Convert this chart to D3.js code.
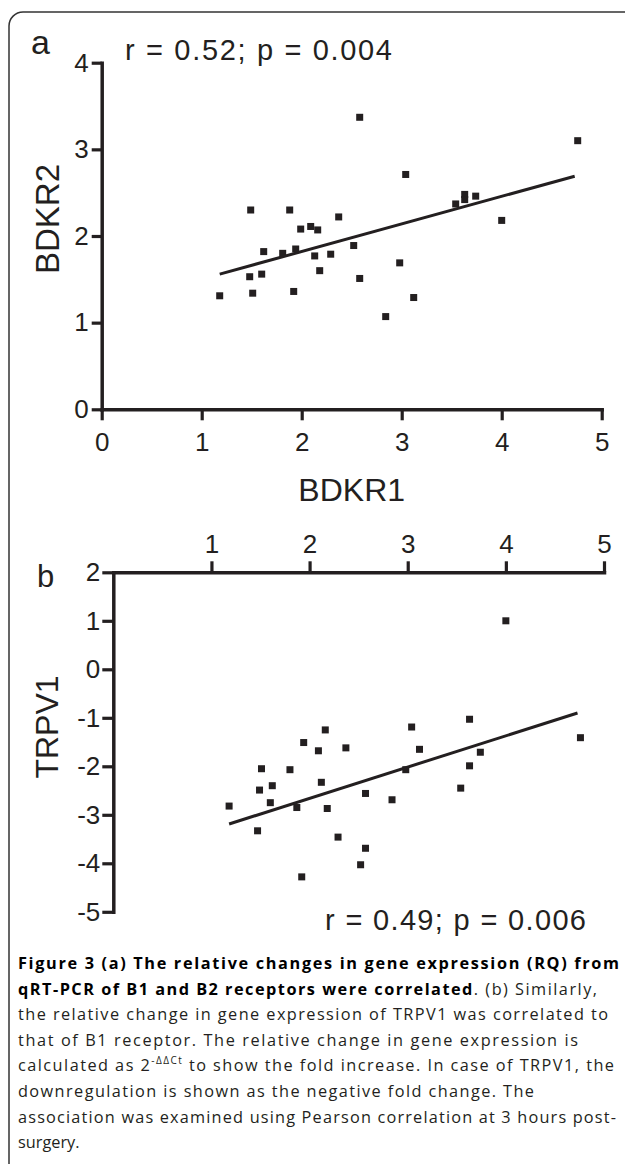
<!DOCTYPE html>
<html>
<head>
<meta charset="utf-8">
<script src="https://cdn.jsdelivr.net/npm/d3@7"></script>
<style>
html,body{margin:0;padding:0;background:#fff;}
svg{display:block;}
</style>
</head>
<body>
<svg id="fig" width="625" height="1164"></svg>
<script>
// ---- data ----
const xTicks = [0, 1, 2, 3, 4, 5];
const yTicksA = [0, 1, 2, 3, 4];
const yTicksB = [2, 1, 0, -1, -2, -3, -4, -5];
const topTicksB = [1, 2, 3, 4, 5];

const bdkr1A = [1.18,1.48,1.49,1.51,1.60,1.62,1.81,1.88,1.92,1.94,1.99,2.09,2.13,2.16,2.18,2.29,2.37,2.52,2.58,2.58,2.84,2.98,3.04,3.12,3.54,3.63,3.63,3.74,4.00,4.76];
const bdkr2A = [1.31,1.53,2.30,1.34,1.56,1.82,1.80,2.30,1.36,1.85,2.08,2.11,1.77,2.07,1.60,1.79,2.22,1.89,3.37,1.51,1.07,1.69,2.71,1.29,2.37,2.48,2.42,2.46,2.18,3.10];

const bdkr1B = [1.18,1.47,1.49,1.51,1.60,1.62,1.80,1.87,1.92,1.94,2.09,2.12,2.16,2.18,2.29,2.37,2.52,2.57,2.57,2.84,2.98,3.04,3.12,3.54,3.63,3.63,3.74,4.00,4.76];
const trpv1B = [-2.82,-3.33,-2.49,-2.05,-2.75,-2.40,-2.07,-2.85,-4.28,-1.51,-1.68,-2.33,-1.25,-2.87,-3.46,-1.62,-4.03,-2.56,-3.69,-2.69,-2.07,-1.19,-1.65,-2.45,-1.03,-1.99,-1.71,1.00,-1.41];

const fitXA = [1.18, 4.73], fitYA = [1.56, 2.69];
const fitXB = [1.18, 4.73], fitYB = [-3.19, -0.90];

const statA = "r = 0.52; p = 0.004";
const statB = "r = 0.49; p = 0.006";

const ink = "#231f20";
const svg = d3.select("#fig");
const plotFont = "'Liberation Sans', Arial, Helvetica, sans-serif";
const fmt = d => String(d); // plain hyphen-minus like the reference

// border
svg.append("rect").attr("x", 9).attr("y", 12).attr("width", 640).attr("height", 1180)
  .attr("rx", 14).attr("ry", 14).attr("fill", "none").attr("stroke", "#333").attr("stroke-width", 1.5);

function styleAxis(g) {
  g.selectAll(".domain").attr("stroke", ink).attr("stroke-width", 3.5).attr("stroke-linecap", "square");
  g.selectAll(".tick line").attr("stroke", ink).attr("stroke-width", 3.2);
  g.selectAll(".tick text").attr("fill", ink).attr("font-family", plotFont).attr("font-size", 26);
}

// ---------- Panel a ----------
const xA = d3.scaleLinear().domain([0, 5]).range([101.7, 601.7]);
const yA = d3.scaleLinear().domain([0, 4]).range([409.3, 62.7]);

const gA = svg.append("g");
gA.append("g").attr("transform", `translate(0,${yA(0)})`)
  .call(d3.axisBottom(xA).tickValues(xTicks).tickFormat(fmt).tickSize(11).tickSizeOuter(0).tickPadding(12))
  .call(styleAxis);
gA.append("g").attr("transform", `translate(${xA(0)},0)`)
  .call(d3.axisLeft(yA).tickValues(yTicksA).tickFormat(fmt).tickSize(10).tickSizeOuter(0).tickPadding(3))
  .call(styleAxis);

gA.append("line")
  .attr("x1", xA(fitXA[0])).attr("y1", yA(fitYA[0]))
  .attr("x2", xA(fitXA[1])).attr("y2", yA(fitYA[1]))
  .attr("stroke", ink).attr("stroke-width", 3);

const sq = 7;
gA.selectAll("rect.pt").data(d3.range(bdkr1A.length)).join("rect")
  .attr("class", "pt")
  .attr("x", i => xA(bdkr1A[i]) - sq / 2).attr("y", i => yA(bdkr2A[i]) - sq / 2)
  .attr("width", sq).attr("height", sq).attr("fill", ink);

gA.append("text").attr("x", 31).attr("y", 54).text("a")
  .attr("font-family", plotFont).attr("font-size", 34).attr("fill", ink);
gA.append("text").attr("x", 125).attr("y", 60).text(statA)
  .attr("font-family", plotFont).attr("font-size", 29).attr("fill", ink)
  .attr("textLength", 267).attr("lengthAdjust", "spacing");
gA.append("text").attr("x", 351.7).attr("y", 501).attr("text-anchor", "middle").text("BDKR1")
  .attr("font-family", plotFont).attr("font-size", 32).attr("fill", ink);
gA.append("text").attr("transform", "translate(59,219) rotate(-90)").attr("text-anchor", "middle").text("BDKR2")
  .attr("font-family", plotFont).attr("font-size", 33).attr("fill", ink);

// ---------- Panel b ----------
const xB = d3.scaleLinear().domain([0, 5]).range([113.3, 604]);
const yB = d3.scaleLinear().domain([-5, 2]).range([911.8, 572.3]);

const gB = svg.append("g");
gB.append("g").attr("transform", `translate(0,${yB(2)})`)
  .call(d3.axisTop(xB).tickValues(topTicksB).tickFormat(fmt).tickSize(11).tickSizeOuter(0).tickPadding(8))
  .call(styleAxis);
gB.append("g").attr("transform", `translate(${xB(0)},0)`)
  .call(d3.axisLeft(yB).tickValues(yTicksB).tickFormat(fmt).tickSize(11).tickSizeOuter(0).tickPadding(2))
  .call(styleAxis);

gB.append("line")
  .attr("x1", xB(fitXB[0])).attr("y1", yB(fitYB[0]))
  .attr("x2", xB(fitXB[1])).attr("y2", yB(fitYB[1]))
  .attr("stroke", ink).attr("stroke-width", 3);

gB.selectAll("rect.pt").data(d3.range(bdkr1B.length)).join("rect")
  .attr("class", "pt")
  .attr("x", i => xB(bdkr1B[i]) - sq / 2).attr("y", i => yB(trpv1B[i]) - sq / 2)
  .attr("width", sq).attr("height", sq).attr("fill", ink);

gB.append("text").attr("x", 37).attr("y", 587).text("b")
  .attr("font-family", plotFont).attr("font-size", 31).attr("fill", ink);
gB.append("text").attr("x", 325).attr("y", 930).text(statB)
  .attr("font-family", plotFont).attr("font-size", 29).attr("fill", ink)
  .attr("textLength", 261).attr("lengthAdjust", "spacing");
gB.append("text").attr("transform", "translate(58,727) rotate(-90)").attr("text-anchor", "middle").text("TRPV1")
  .attr("font-family", plotFont).attr("font-size", 32).attr("fill", ink);

// ---------- Caption ----------
const capFont = "'Open Sans', 'Noto Sans', sans-serif";
const capLines = [
  [{t: "Figure 3 (a) The relative changes in gene expression (RQ) from", b: true}],
  [{t: "qRT-PCR of B1 and B2 receptors were correlated", b: true}, {t: ". (b) Similarly,"}],
  [{t: "the relative change in gene expression of TRPV1 was correlated to"}],
  [{t: "that of B1 receptor. The relative change in gene expression is"}],
  [{t: "calculated as 2"}, {t: "-ΔΔCt", sup: true}, {t: " to show the fold increase. In case of TRPV1, the"}],
  [{t: "downregulation is shown as the negative fold change. The"}],
  [{t: "association was examined using Pearson correlation at 3 hours post-"}],
  [{t: "surgery."}]
];
const capWidths = [601, 579, 590, 560, 596, 516, 598, null];
const cap = svg.append("g");
capLines.forEach((segs, i) => {
  const t = cap.append("text").attr("x", 18).attr("y", 969 + i * 25.6)
    .attr("font-family", capFont).attr("font-size", 16.3).attr("fill", "#231f20");
  segs.forEach((s, j) => {
    const ts = t.append("tspan").text(s.t);
    if (s.b) ts.attr("font-weight", "bold").attr("fill", "#000");
    if (s.sup) ts.attr("font-size", 10).attr("dy", -7);
    else if (j > 0 && segs[j - 1].sup) ts.attr("dy", 7);
  });
  if (capWidths[i]) t.attr("textLength", capWidths[i]).attr("lengthAdjust", "spacing");
});
</script>
</body>
</html>
